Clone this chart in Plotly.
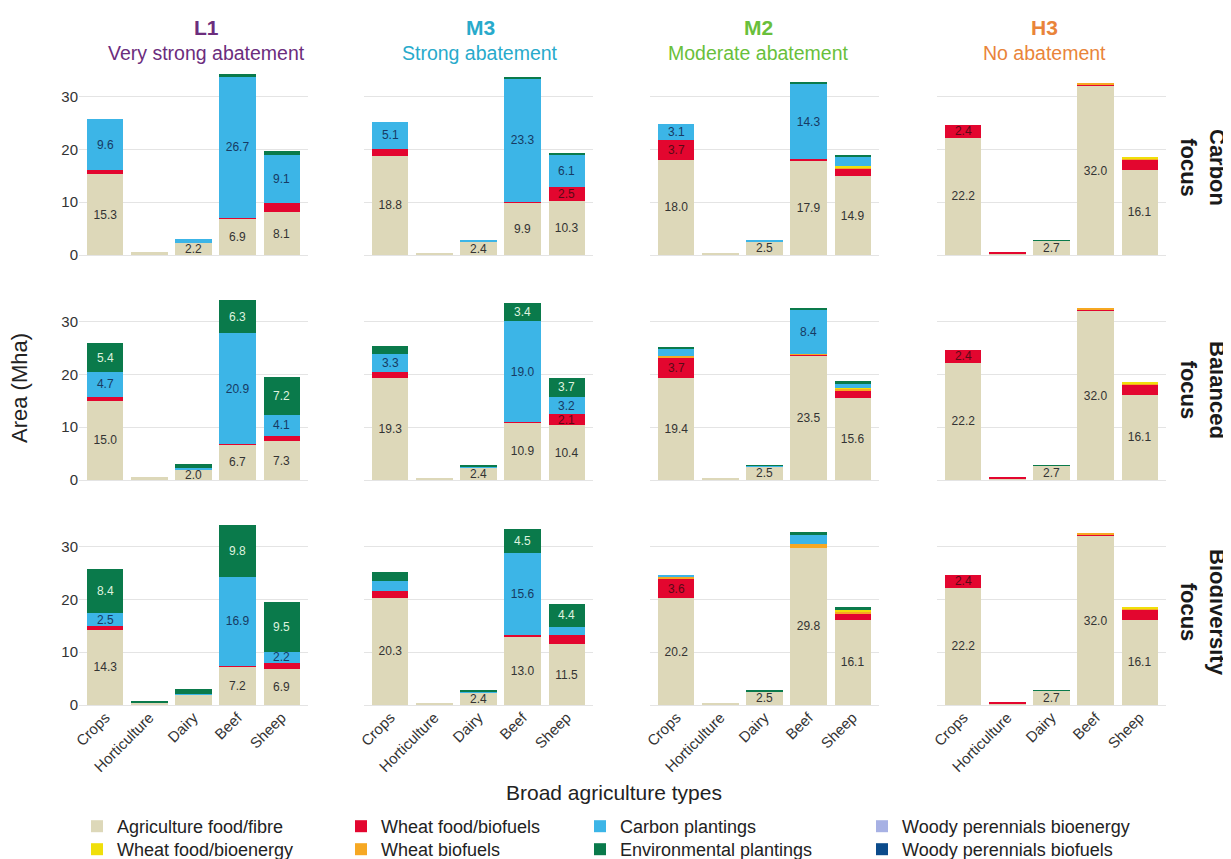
import plotly.graph_objects as go

# ---------------- data ----------------
categories = ["Crops", "Horticulture", "Dairy", "Beef", "Sheep"]
scenarios = ["L1", "M3", "M2", "H3"]
scenario_subtitles = ["Very strong abatement", "Strong abatement", "Moderate abatement", "No abatement"]
scenario_colors = ["#6c2d7d", "#28aacb", "#69bf3b", "#e9843a"]
focus_labels = ["Carbon<br>focus", "Balanced<br>focus", "Biodiversity<br>focus"]
y_tick_values = [0, 10, 20, 30]
x_axis_title = "Broad agriculture types"
y_axis_title = "Area (Mha)"

# each series: 12 panels (rows: carbon, balanced, biodiversity; cols: L1, M3, M2, H3)
agri_food_fibre = [
    [15.3, 0.5, 2.2, 6.9, 8.1], [18.8, 0.4, 2.4, 9.9, 10.3], [18.0, 0.4, 2.5, 17.9, 14.9], [22.2, 0.3, 2.7, 32.0, 16.1],
    [15.0, 0.5, 2.0, 6.7, 7.3], [19.3, 0.4, 2.4, 10.9, 10.4], [19.4, 0.4, 2.5, 23.5, 15.6], [22.2, 0.3, 2.7, 32.0, 16.1],
    [14.3, 0.5, 1.9, 7.2, 6.9], [20.3, 0.4, 2.4, 13.0, 11.5], [20.2, 0.4, 2.5, 29.8, 16.1], [22.2, 0.3, 2.7, 32.0, 16.1],
]
wheat_food_biofuels = [
    [0.8, 0, 0, 0.15, 1.7], [1.3, 0, 0, 0.15, 2.5], [3.7, 0, 0, 0.2, 1.3], [2.4, 0.05, 0, 0.3, 1.8],
    [0.8, 0, 0, 0.15, 1.0], [1.2, 0, 0, 0.15, 2.1], [3.7, 0, 0, 0.2, 1.2], [2.4, 0.05, 0, 0.3, 1.8],
    [0.6, 0, 0, 0.2, 1.0], [1.3, 0, 0, 0.2, 1.8], [3.6, 0, 0, 0, 1.1], [2.4, 0.05, 0, 0.3, 1.8],
]
wheat_biofuels = [
    [0, 0, 0, 0, 0], [0, 0, 0, 0, 0], [0, 0, 0, 0, 0.4], [0, 0, 0, 0.35, 0.4],
    [0, 0, 0, 0, 0], [0, 0, 0, 0, 0], [0.3, 0, 0, 0.15, 0.4], [0, 0, 0, 0.35, 0.4],
    [0, 0, 0, 0, 0], [0, 0, 0, 0, 0], [0.5, 0, 0, 0.6, 0.5], [0, 0, 0, 0.35, 0.4],
]
wheat_food_bioenergy = [
    [0, 0, 0, 0, 0], [0, 0, 0, 0, 0], [0, 0, 0, 0, 0.2], [0, 0, 0, 0, 0.3],
    [0, 0, 0, 0, 0], [0, 0, 0, 0, 0], [0, 0, 0, 0, 0.3], [0, 0, 0, 0, 0.3],
    [0, 0, 0, 0, 0], [0, 0, 0, 0, 0], [0, 0, 0, 0, 0.3], [0, 0, 0, 0, 0.3],
]
carbon_plantings = [
    [9.6, 0, 0.8, 26.7, 9.1], [5.1, 0, 0.4, 23.3, 6.1], [3.1, 0, 0.3, 14.3, 1.7], [0, 0, 0, 0, 0],
    [4.7, 0, 0.2, 20.9, 4.1], [3.3, 0, 0.2, 19.0, 3.2], [1.4, 0, 0.2, 8.4, 0.7], [0, 0, 0, 0, 0],
    [2.5, 0, 0.1, 16.9, 2.2], [1.8, 0, 0.2, 15.6, 1.5], [0.4, 0, 0, 1.8, 0], [0, 0, 0, 0, 0],
]
environmental_plantings = [
    [0, 0, 0, 0.5, 0.8], [0, 0, 0, 0.4, 0.5], [0, 0, 0, 0.4, 0.5], [0, 0, 0.1, 0, 0],
    [5.4, 0, 0.8, 6.3, 7.2], [1.5, 0, 0.3, 3.4, 3.7], [0.3, 0, 0.1, 0.4, 0.6], [0, 0, 0.1, 0, 0],
    [8.4, 0.1, 1.0, 9.8, 9.5], [1.8, 0, 0.3, 4.5, 4.4], [0, 0, 0.15, 0.5, 0.6], [0, 0, 0.1, 0, 0],
]
woody_bioenergy = [
    [0, 0, 0, 0, 0], [0, 0, 0, 0, 0], [0, 0, 0, 0, 0], [0, 0, 0, 0, 0],
    [0, 0, 0, 0, 0], [0, 0, 0, 0, 0], [0, 0, 0, 0, 0], [0, 0, 0, 0, 0],
    [0, 0, 0, 0, 0], [0, 0, 0, 0, 0], [0, 0, 0, 0, 0], [0, 0, 0, 0, 0],
]
woody_biofuels = [
    [0, 0, 0, 0, 0], [0, 0, 0, 0, 0], [0, 0, 0, 0, 0], [0, 0, 0, 0, 0],
    [0, 0, 0, 0, 0], [0, 0, 0, 0, 0], [0, 0, 0, 0, 0], [0, 0, 0, 0, 0],
    [0, 0, 0, 0, 0], [0, 0, 0, 0, 0], [0, 0, 0, 0, 0], [0, 0, 0, 0, 0],
]

# (name, data, fill colour, label colour, legend column, legend row) in stacking order
series = [
    ("Agriculture food/fibre", agri_food_fibre, "#ddd8b9", "#333333", 0, 0),
    ("Wheat food/biofuels", wheat_food_biofuels, "#e3062f", "#5a0a16", 1, 0),
    ("Wheat biofuels", wheat_biofuels, "#f6a823", "#333333", 1, 1),
    ("Wheat food/bioenergy", wheat_food_bioenergy, "#f0df0a", "#333333", 0, 1),
    ("Carbon plantings", carbon_plantings, "#3cb5e7", "#173a63", 2, 0),
    ("Environmental plantings", environmental_plantings, "#0a7a4b", "#dff3df", 2, 1),
    ("Woody perennials bioenergy", woody_bioenergy, "#a7b1e4", "#333333", 3, 0),
    ("Woody perennials biofuels", woody_biofuels, "#0b4b8b", "#ffffff", 3, 1),
]

# ---------------- layout geometry (page pixels) ----------------
OFF = 8                      # default body margin of the page
W, H = 1231 - OFF, 859 - OFF
FONT = "Liberation Sans, Arial, sans-serif"
col_px = [(79, 308), (364, 593), (650, 879), (937, 1166)]
row_zero_px = [255, 480, 705]
Y_MAX = 35
PX_PER_UNIT = 5.28
legend_left_px = [77, 341, 580, 862]
legend_top_px = [808, 831]


def fx(px):
    return (px - OFF) / W


def fy(py):
    return 1 - (py - OFF) / H


fig = go.Figure()

for r in range(3):
    for c in range(4):
        p = r * 4 + c
        n = p + 1
        xa = "x" if n == 1 else f"x{n}"
        ya = "y" if n == 1 else f"y{n}"
        for k, (name, data, color, tcolor, lc, lr) in enumerate(series):
            vals = data[p]
            labels = [f"{v:.1f}" if v >= 2 else "" for v in vals]
            leg = "legend" if k == 0 else f"legend{k + 1}"
            fig.add_trace(go.Bar(
                x=categories, y=vals, name=name, legendgroup=name,
                showlegend=(p == 0), legend=leg,
                marker=dict(color=color, line=dict(width=0)),
                text=labels, textposition="inside", insidetextanchor="middle",
                textangle=0, textfont=dict(color=tcolor, size=12, family=FONT),
                hoverinfo="skip", xaxis=xa, yaxis=ya, cliponaxis=False,
            ))
        x0, x1 = col_px[c]
        z = row_zero_px[r]
        top = z - Y_MAX * PX_PER_UNIT
        xkey = "xaxis" if n == 1 else f"xaxis{n}"
        ykey = "yaxis" if n == 1 else f"yaxis{n}"
        fig.layout[xkey] = dict(
            domain=[fx(x0), fx(x1)], anchor=ya, range=[-0.6, 4.6],
            showgrid=False, zeroline=False, showline=False, ticks="",
            showticklabels=(r == 2), tickangle=-45,
            tickfont=dict(size=15, color="#333333", family=FONT),
            categoryorder="array", categoryarray=categories,
        )
        fig.layout[ykey] = dict(
            domain=[fy(z), fy(top)], anchor=xa, range=[0, Y_MAX],
            tickvals=y_tick_values, showgrid=True, gridcolor="#e4e4e4", gridwidth=1,
            zeroline=True, zerolinecolor="#e4e4e4", zerolinewidth=1,
            showline=False, ticks="", showticklabels=(c == 0),
            tickfont=dict(size=15, color="#333333", family=FONT),
        )

# one legend box per legend entry so that the 4x2 grid matches the reference
for k, (name, data, color, tcolor, lc, lr) in enumerate(series):
    key = "legend" if k == 0 else f"legend{k + 1}"
    fig.layout[key] = dict(
        x=fx(legend_left_px[lc]), y=fy(legend_top_px[lr]),
        orientation="v", traceorder="normal", yanchor="top", xanchor="left",
        font=dict(size=18, color="#222222", family=FONT), bgcolor="rgba(0,0,0,0)",
        tracegroupgap=0, itemclick=False, itemdoubleclick=False,
    )

annotations = []
title_x = [206, 480, 758, 1044]
for c in range(4):
    annotations.append(dict(
        x=fx(title_x[c]), y=fy(27), xref="paper", yref="paper", showarrow=False,
        text=f"<b>{scenarios[c]}</b>", font=dict(size=21, color=scenario_colors[c], family=FONT),
        xanchor="center", yanchor="middle"))
    annotations.append(dict(
        x=fx(title_x[c]), y=fy(53), xref="paper", yref="paper", showarrow=False,
        text=scenario_subtitles[c], font=dict(size=19.5, color=scenario_colors[c], family=FONT),
        xanchor="center", yanchor="middle"))

row_label_y = [167, 390, 612]
for r in range(3):
    annotations.append(dict(
        x=fx(1203), y=fy(row_label_y[r]), xref="paper", yref="paper", showarrow=False,
        text=f"<b>{focus_labels[r]}</b>", textangle=90,
        font=dict(size=22, color="#1a1a1a", family=FONT),
        xanchor="center", yanchor="middle"))

annotations.append(dict(
    x=fx(20), y=fy(388), xref="paper", yref="paper", showarrow=False,
    text=y_axis_title, textangle=-90, font=dict(size=22, color="#222222", family=FONT),
    xanchor="center", yanchor="middle"))
annotations.append(dict(
    x=fx(614), y=fy(792), xref="paper", yref="paper", showarrow=False,
    text=x_axis_title, font=dict(size=21, color="#222222", family=FONT),
    xanchor="center", yanchor="middle"))

fig.update_layout(
    width=W, height=H, margin=dict(l=0, r=0, t=0, b=0, autoexpand=False),
    barmode="stack", bargap=0.18, plot_bgcolor="white", paper_bgcolor="white",
    annotations=annotations,
    uniformtext=dict(minsize=12, mode="show"),
    font=dict(family=FONT, color="#222222"),
)

fig.write_html("out.html")
